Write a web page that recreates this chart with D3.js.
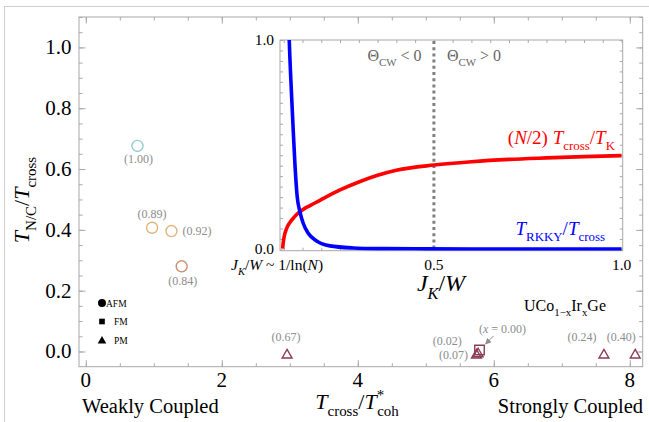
<!DOCTYPE html>
<html>
<head>
<meta charset="utf-8">
<script src="https://cdn.jsdelivr.net/npm/d3@7"></script>
<style>
  body { margin: 0; background: #fff; }
  svg { display: block; }
  svg text { font-family: "Liberation Serif", "Times New Roman", Times, "DejaVu Serif", serif; }
</style>
</head>
<body>
<svg id="chart" width="649" height="422"></svg>
<script>
// --- main scatter : T_cross/T*_coh vs T_N/C/T_cross for UCo1-xIrxGe
const ratioX = [0.76, 0.975, 1.26, 1.41, 2.96, 5.745, 5.77, 5.79, 7.62, 8.08];
const ratioY = [0.676, 0.407, 0.396, 0.28, -0.012, -0.012, -0.008, 0.005, -0.012, -0.012];
const phase = ["AFM", "AFM", "AFM", "AFM", "PM", "PM", "PM", "FM", "PM", "PM"];
const irLabel = ["(1.00)", "(0.89)", "(0.92)", "(0.84)", "(0.67)", "(0.07)", "(0.02)", "(x = 0.00)", "(0.24)", "(0.40)"];

const xTickLabels = [0, 2, 4, 6, 8];
const yTickLabels = [0.0, 0.2, 0.4, 0.6, 0.8, 1.0];

// --- inset curves (J_K/W)
const jkRed = [0.097, 0.0985, 0.1005, 0.1031, 0.107, 0.112, 0.1185, 0.1252, 0.133, 0.143, 0.155, 0.17, 0.2, 0.25, 0.3, 0.35, 0.4, 0.5, 0.6, 0.7, 0.8, 0.9, 1.0];
const crossOverTK = [0.004, 0.03, 0.055, 0.077, 0.097, 0.117, 0.134, 0.149, 0.164, 0.18, 0.195, 0.209, 0.238, 0.284, 0.322, 0.354, 0.378, 0.403, 0.419, 0.43, 0.437, 0.443, 0.448];
const jkBlue = [0.112, 0.1146, 0.121, 0.1252, 0.1297, 0.1358, 0.143, 0.1518, 0.1652, 0.1875, 0.223, 0.285, 0.35, 0.45, 0.6, 0.8, 1.0];
const rkkyOverCross = [1.15, 1.0, 0.73, 0.57, 0.41, 0.252, 0.18, 0.125, 0.077, 0.04, 0.017, 0.007, 0.004, 0.003, 0.002, 0.002, 0.002];
const insetXTicks = [0.5, 1.0];
const insetYTicks = [0.0, 1.0];
const thetaSplit = 0.5;

const svg = d3.select("#chart");

// rich text helper: parts = {t, i, sub, sup, dx}
function rich(text, parts, size) {
  let shift = 0;
  parts.forEach(p => {
    const ts = text.append("tspan").text(p.t);
    const target = p.sub ? size * 0.32 : p.sup ? -size * 0.42 : 0;
    if (target !== shift) { ts.attr("dy", target - shift); shift = target; }
    ts.attr("font-size", (p.sub || p.sup) ? size * 0.68 : size);
    if (p.i) ts.attr("font-style", "italic");
    if (p.dx) ts.attr("dx", p.dx);
  });
  return text;
}

// outer frame
svg.append("rect").attr("x", 4.5).attr("y", 6.5).attr("width", 700).attr("height", 500)
  .attr("fill", "none").attr("stroke", "#cfcfcf");

// main scales
const x = d3.scaleLinear().domain([-0.1, 8.19]).range([79, 642.7]);
const y = d3.scaleLinear().domain([-0.05, 1.1]).range([366.7, 17]);

const frameColor = "#a8a8a8";
function styleAxis(g) {
  g.select(".domain").remove();
  g.selectAll("line").attr("stroke", frameColor);
  g.selectAll("text").remove();
}
const xMinor = d3.range(0, 8.01, 0.5);
const yMinor = d3.range(0, 1.101, 0.05);
svg.append("g").attr("transform", `translate(0,${y.range()[0]})`)
  .call(d3.axisBottom(x).tickValues(xMinor).tickSize(-3.5)).call(styleAxis);
svg.append("g").attr("transform", `translate(0,${y.range()[0]})`)
  .call(d3.axisBottom(x).tickValues(xTickLabels).tickSize(-6.5)).call(styleAxis);
svg.append("g").attr("transform", `translate(0,${y.range()[1]})`)
  .call(d3.axisTop(x).tickValues(xMinor).tickSize(-3.5)).call(styleAxis);
svg.append("g").attr("transform", `translate(0,${y.range()[1]})`)
  .call(d3.axisTop(x).tickValues(xTickLabels).tickSize(-6.5)).call(styleAxis);
svg.append("g").attr("transform", `translate(${x.range()[0]},0)`)
  .call(d3.axisLeft(y).tickValues(yMinor).tickSize(-3.5)).call(styleAxis);
svg.append("g").attr("transform", `translate(${x.range()[0]},0)`)
  .call(d3.axisLeft(y).tickValues(yTickLabels).tickSize(-6.5)).call(styleAxis);
svg.append("g").attr("transform", `translate(${x.range()[1]},0)`)
  .call(d3.axisRight(y).tickValues(yMinor).tickSize(-3.5)).call(styleAxis);
svg.append("g").attr("transform", `translate(${x.range()[1]},0)`)
  .call(d3.axisRight(y).tickValues(yTickLabels).tickSize(-6.5)).call(styleAxis);

svg.append("rect")
  .attr("x", x.range()[0]).attr("y", y.range()[1])
  .attr("width", x.range()[1] - x.range()[0]).attr("height", y.range()[0] - y.range()[1])
  .attr("fill", "none").attr("stroke", frameColor);

// tick labels
svg.append("g").selectAll("text").data(xTickLabels).join("text")
  .attr("x", d => x(d)).attr("y", 387).attr("text-anchor", "middle")
  .attr("font-size", 21).text(d => d);
svg.append("g").selectAll("text").data(yTickLabels).join("text")
  .attr("x", 71.5).attr("y", d => y(d) + 7).attr("text-anchor", "end")
  .attr("font-size", 21).text(d => d.toFixed(1));

// axis titles
rich(svg.append("text").attr("x", 357).attr("y", 409).attr("text-anchor", "middle"),
  [{t: "T", i: true}, {t: "cross", sub: true}, {t: "/"}, {t: "T", i: true},
   {t: "*", sup: true}, {t: "coh", sub: true, dx: -7}], 22);
rich(svg.append("text").attr("transform", "translate(29,200) rotate(-90)").attr("text-anchor", "middle"),
  [{t: "T", i: true}, {t: "N/C", sub: true}, {t: "/"}, {t: "T", i: true}, {t: "cross", sub: true}], 22);

svg.append("text").attr("x", 82).attr("y", 413).attr("font-size", 20.5).text("Weakly Coupled");
svg.append("text").attr("x", 643).attr("y", 413).attr("font-size", 20.5)
  .attr("text-anchor", "end").text("Strongly Coupled");

// compound label
rich(svg.append("text").attr("x", 524).attr("y", 311),
  [{t: "UCo"}, {t: "1\u2212x", sub: true}, {t: "Ir"}, {t: "x", sub: true}, {t: "Ge"}], 16);

// legend
const legendItems = ["AFM", "FM", "PM"];
const symbolType = {AFM: d3.symbolCircle, FM: d3.symbolSquare, PM: d3.symbolTriangle};
const legend = svg.append("g").attr("transform", "translate(102,303)");
legendItems.forEach((k, i) => {
  const row = legend.append("g").attr("transform", `translate(0,${i * 18.5})`);
  row.append("path").attr("d", d3.symbol(symbolType[k], k === "AFM" ? 50 : 32)())
    .attr("transform", k === "PM" ? "translate(0,1)" : null).attr("fill", "#000");
  row.append("text").attr("x", k === "AFM" ? 4 : 12).attr("y", 3.5)
    .attr("font-size", 9.5).text(k);
});

// points
const markColor = d => ({"(1.00)": "#95cbd8", "(0.89)": "#dfb47c", "(0.92)": "#dfb47c", "(0.84)": "#cf8e70"}[d] || "#8b3b52");
const points = svg.append("g");
ratioX.forEach((vx, i) => {
  const size = phase[i] === "AFM" ? 96 : phase[i] === "FM" ? 90 : 42;
  points.append("path")
    .attr("d", d3.symbol(symbolType[phase[i]], size)())
    .attr("transform", `translate(${x(vx)},${y(ratioY[i])})`)
    .attr("fill", "none").attr("stroke", markColor(irLabel[i])).attr("stroke-width", 1.4);
});

// point labels (offsets from each mark)
const labelOffset = {
  "(1.00)": [1, 17, "middle"], "(0.89)": [0, -10, "middle"], "(0.92)": [11, 4, "start"],
  "(0.84)": [1, 19, "middle"], "(0.67)": [-1, -14, "middle"], "(0.07)": [-23, 4, "middle"],
  "(0.02)": [-31, -9, "middle"], "(x = 0.00)": [23, -17, "middle"], "(0.24)": [-22, -14, "middle"],
  "(0.40)": [-14, -14, "middle"]
};
ratioX.forEach((vx, i) => {
  const [dx, dy, anchor] = labelOffset[irLabel[i]];
  const t = svg.append("text").attr("x", x(vx) + dx).attr("y", y(ratioY[i]) + dy)
    .attr("text-anchor", anchor).attr("font-size", 12).attr("fill", "#8c8c8c");
  if (irLabel[i].startsWith("(x")) {
    rich(t, [{t: "("}, {t: "x", i: true}, {t: " = 0.00)"}], 12);
  } else t.text(irLabel[i]);
});
// arrow to the x = 0.00 square
svg.append("defs").append("marker").attr("id", "arr").attr("viewBox", "0 0 10 10")
  .attr("refX", 9).attr("refY", 5).attr("markerWidth", 6).attr("markerHeight", 6)
  .attr("orient", "auto").append("path").attr("d", "M0,0L10,5L0,10z").attr("fill", "#8c8c8c");
svg.append("line").attr("x1", x(5.79) + 14).attr("y1", y(0.005) - 14)
  .attr("x2", x(5.79) + 6).attr("y2", y(0.005) - 6)
  .attr("stroke", "#8c8c8c").attr("stroke-width", 1).attr("marker-end", "url(#arr)");

// ---------------- inset ----------------
const ix = d3.scaleLinear().domain([0.09, 1.003]).range([280, 622.7]);
const iy = d3.scaleLinear().domain([-0.006, 1.0]).range([250.7, 40]);
const inset = svg.append("g");
inset.append("rect").attr("x", 280).attr("y", 40).attr("width", 342.7).attr("height", 210.7)
  .attr("fill", "#fff");
const ixMinor = d3.range(0.1, 1.001, 0.05);
const iyMinor = d3.range(0, 1.001, 0.05);
inset.append("g").attr("transform", "translate(0,250.7)")
  .call(d3.axisBottom(ix).tickValues(ixMinor).tickSize(-3)).call(styleAxis);
inset.append("g").attr("transform", "translate(0,40)")
  .call(d3.axisTop(ix).tickValues(ixMinor).tickSize(-3)).call(styleAxis);
inset.append("g").attr("transform", "translate(280,0)")
  .call(d3.axisLeft(iy).tickValues(iyMinor).tickSize(-3)).call(styleAxis);
inset.append("g").attr("transform", "translate(622.7,0)")
  .call(d3.axisRight(iy).tickValues(iyMinor).tickSize(-3)).call(styleAxis);
inset.append("rect").attr("x", 280).attr("y", 40).attr("width", 342.7).attr("height", 210.7)
  .attr("fill", "none").attr("stroke", frameColor);

svg.select("defs").append("clipPath").attr("id", "insetClip")
  .append("rect").attr("x", 280).attr("y", 40).attr("width", 342.7).attr("height", 210.7);

// theta divider
inset.append("line").attr("x1", ix(thetaSplit)).attr("x2", ix(thetaSplit))
  .attr("y1", 41).attr("y2", 250).attr("stroke", "#808080")
  .attr("stroke-width", 3).attr("stroke-dasharray", "3,3.2");

const line = d3.line().curve(d3.curveMonotoneX);
const curves = inset.append("g").attr("clip-path", "url(#insetClip)");
curves.append("path").attr("d", line(jkRed.map((d, i) => [ix(d), iy(crossOverTK[i])])))
  .attr("fill", "none").attr("stroke", "#ff0000").attr("stroke-width", 3.6);
curves.append("path").attr("d", line(jkBlue.map((d, i) => [ix(d), iy(rkkyOverCross[i])])))
  .attr("fill", "none").attr("stroke", "#0000ff").attr("stroke-width", 3.6);

// inset tick labels
inset.selectAll(".ixl").data(insetXTicks).join("text").attr("class", "ixl")
  .attr("x", d => ix(d)).attr("y", 270).attr("text-anchor", "middle")
  .attr("font-size", 15.5).text(d => d.toFixed(1));
inset.selectAll(".iyl").data(insetYTicks).join("text").attr("class", "iyl")
  .attr("x", 274).attr("y", d => iy(d) + 5).attr("text-anchor", "end")
  .attr("font-size", 15.5).text(d => d.toFixed(1));
rich(inset.append("text").attr("x", 231).attr("y", 270),
  [{t: "J", i: true}, {t: "K", i: true, sub: true}, {t: "/"}, {t: "W", i: true},
   {t: " ~ 1/ln("}, {t: "N", i: true}, {t: ")"}], 15.5);
rich(inset.append("text").attr("x", 441).attr("y", 291).attr("text-anchor", "middle"),
  [{t: "J", i: true}, {t: "K", i: true, sub: true}, {t: "/"}, {t: "W", i: true}], 24);

rich(inset.append("text").attr("x", 421.5).attr("y", 60.5).attr("text-anchor", "end").attr("fill", "#666"),
  [{t: "\u0398"}, {t: "CW", sub: true}, {t: " < 0"}], 16);
rich(inset.append("text").attr("x", 447).attr("y", 60.5).attr("fill", "#666"),
  [{t: "\u0398"}, {t: "CW", sub: true}, {t: " > 0"}], 16);

rich(inset.append("text").attr("x", 615).attr("y", 143.5).attr("text-anchor", "end").attr("fill", "#ff0000"),
  [{t: "("}, {t: "N", i: true}, {t: "/2) "}, {t: "T", i: true}, {t: "cross", sub: true},
   {t: "/"}, {t: "T", i: true}, {t: "K", sub: true}], 19);
rich(inset.append("text").attr("x", 605).attr("y", 235).attr("text-anchor", "end").attr("fill", "#0000ff"),
  [{t: "T", i: true}, {t: "RKKY", sub: true}, {t: "/"}, {t: "T", i: true}, {t: "cross", sub: true}], 19);
</script>
</body>
</html>
